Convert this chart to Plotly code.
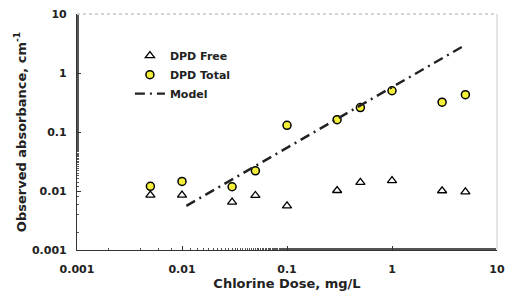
import plotly.graph_objects as go

dose = [0.005, 0.01, 0.03, 0.05, 0.1, 0.3, 0.5, 1, 3, 5]
dpd_free = [0.0085, 0.0085, 0.0065, 0.0084, 0.0056, 0.0102, 0.014, 0.015, 0.0101, 0.0097]
dpd_total = [0.012, 0.0145, 0.0118, 0.022, 0.13, 0.162, 0.26, 0.5, 0.32, 0.43]
model_x = [0.011, 5]
model_y = [0.0056, 3.0]
tick_vals = [0.001, 0.01, 0.1, 1, 10]
tick_text = ["0.001", "0.01", "0.1", "1", "10"]

font = "DejaVu Sans"
fig = go.Figure()
fig.add_trace(go.Scatter(x=dose, y=dpd_free, mode="markers", name="DPD Free",
                         marker=dict(symbol="triangle-up-open", size=8, color="black",
                                     line=dict(width=1.3, color="black"))))
fig.add_trace(go.Scatter(x=dose, y=dpd_total, mode="markers", name="DPD Total",
                         marker=dict(symbol="circle", size=8, color="#f4f03a",
                                     line=dict(width=1.5, color="black"))))
fig.add_trace(go.Scatter(x=model_x, y=model_y, mode="lines", name="Model",
                         line=dict(color="#222222", width=2.4, dash="10px,5px,2px,5px")))

axis_common = dict(type="log", showgrid=False, zeroline=False, showline=True, automargin=False,
                   linecolor="#333333", linewidth=1.2, ticks="inside", ticklen=4,
                   tickcolor="#333333", tickvals=tick_vals, ticktext=tick_text,
                   tickfont=dict(family=font, size=11, color="#222222", weight="bold"),
                   minor=dict(ticks="inside", ticklen=2, tickcolor="#555555", showgrid=False))
fig.update_xaxes(range=[-3, 1], ticklabelstandoff=9,
                 title=dict(text="<b>Chlorine Dose, mg/L</b>", standoff=3,
                            font=dict(family=font, size=13, color="#222222")), **axis_common)
fig.update_yaxes(range=[-3, 1], ticklabelstandoff=7,
                 title=dict(text="<b>Observed absorbance, cm<sup>-1</sup></b>", standoff=2,
                            font=dict(family=font, size=13, color="#222222")), **axis_common)

fig.add_shape(type="line", xref="paper", yref="paper", x0=0, x1=1, y0=1, y1=1,
              line=dict(color="#aaaaaa", width=1, dash="dot"))
fig.add_shape(type="line", xref="paper", yref="paper", x0=1, x1=1, y0=0, y1=1,
              line=dict(color="#c8c8d0", width=1))

fig.update_layout(width=514, height=296, margin=dict(l=77, r=17, t=14, b=46),
                  paper_bgcolor="white", plot_bgcolor="white",
                  font=dict(family=font, size=11, color="#222222"),
                  legend=dict(x=0.126, y=0.885, xanchor="left", yanchor="top",
                              bgcolor="rgba(0,0,0,0)", tracegroupgap=0,
                              font=dict(family=font, size=11, color="#222222", weight="bold")))
fig.write_html("out.html", config={"displayModeBar": False},
               post_script="document.body.style.margin='0';")
